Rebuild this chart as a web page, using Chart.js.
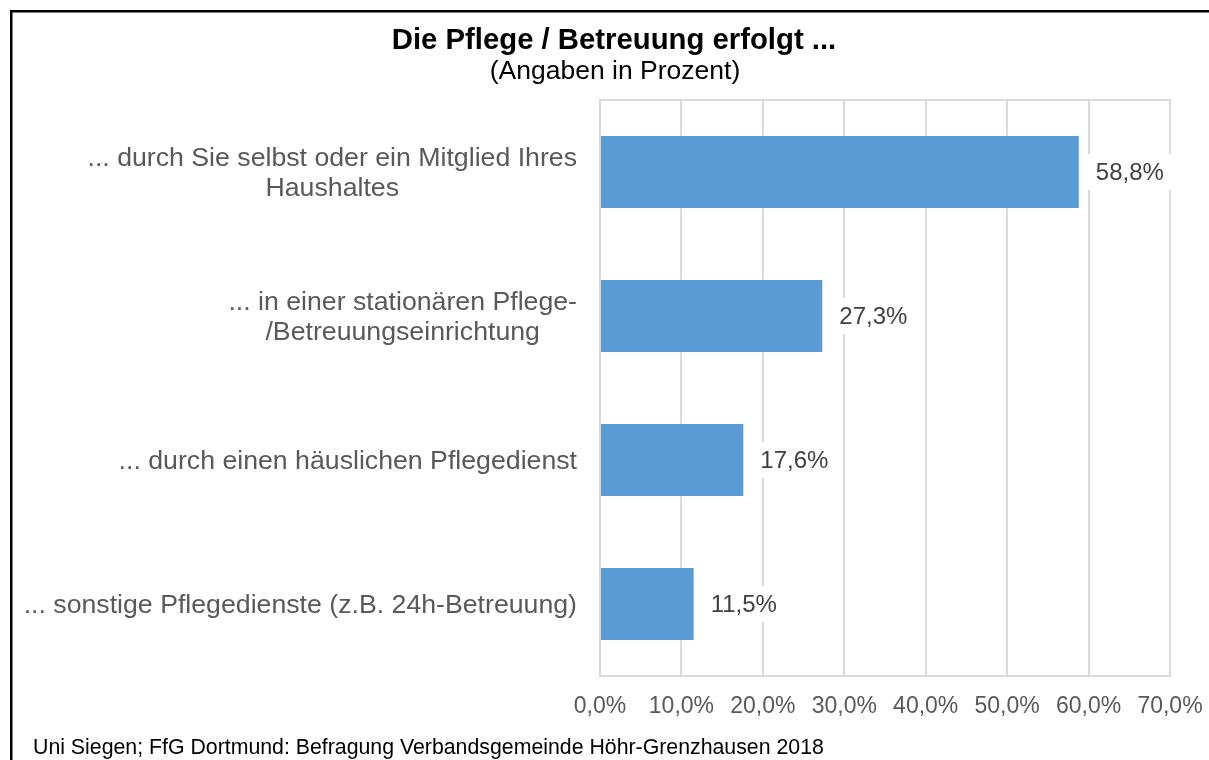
<!DOCTYPE html>
<html>
<head>
<meta charset="utf-8">
<script src="https://cdn.jsdelivr.net/npm/chart.js@4.4.1/dist/chart.umd.min.js"></script>
<style>
  html, body { margin: 0; padding: 0; background: #ffffff; }
  #wrap { position: relative; width: 1209px; height: 760px; }
  canvas { display: block; }
</style>
</head>
<body>
<div id="wrap"><canvas id="c" width="1209" height="760"></canvas></div>
<script>
const chartTitle = 'Die Pflege / Betreuung erfolgt ...';
const chartSubtitle = '(Angaben in Prozent)';
const sourceNote = 'Uni Siegen; FfG Dortmund: Befragung Verbandsgemeinde Höhr-Grenzhausen 2018';
const categories = [
  ['... durch Sie selbst oder ein Mitglied Ihres', 'Haushaltes'],
  ['... in einer stationären Pflege-', '/Betreuungseinrichtung'],
  ['... durch einen häuslichen Pflegedienst'],
  ['... sonstige Pflegedienste (z.B. 24h-Betreuung)']
];
const values = [58.8, 27.3, 17.6, 11.5];
const valueLabels = ['58,8%', '27,3%', '17,6%', '11,5%'];
const tickLabels = ['0,0%', '10,0%', '20,0%', '30,0%', '40,0%', '50,0%', '60,0%', '70,0%'];

const FONT = '"Liberation Sans", Arial, sans-serif';

const decoPlugin = {
  id: 'deco',
  beforeDraw(chart) {
    const ctx = chart.ctx;
    ctx.save();
    ctx.fillStyle = '#ffffff';
    ctx.fillRect(0, 0, chart.width, chart.height);
    // outer frame
    ctx.strokeStyle = '#000000';
    ctx.lineWidth = 2.5;
    ctx.beginPath();
    ctx.moveTo(11.25, 800);
    ctx.lineTo(11.25, 11.25);
    ctx.lineTo(1300, 11.25);
    ctx.stroke();
    // title
    ctx.fillStyle = '#000000';
    ctx.textAlign = 'center';
    ctx.textBaseline = 'middle';
    ctx.font = 'bold 29.3px ' + FONT;
    ctx.fillText(chartTitle, 614, 41);
    ctx.font = '26.5px ' + FONT;
    ctx.fillText(chartSubtitle, 615, 72);
    // footer
    ctx.textAlign = 'left';
    ctx.font = '21.3px ' + FONT;
    ctx.fillText(sourceNote, 33, 748);
    ctx.restore();
  },
  beforeDatasetsDraw(chart) {
    const ctx = chart.ctx;
    const a = chart.chartArea;
    ctx.save();
    ctx.strokeStyle = '#d9d9d9';
    ctx.lineWidth = 2;
    ctx.strokeRect(a.left, a.top, a.right - a.left, a.bottom - a.top);
    ctx.restore();
  },
  afterDatasetsDraw(chart) {
    const ctx = chart.ctx;
    const xs = chart.scales.x;
    const ys = chart.scales.y;
    ctx.save();
    // value labels with white boxes
    ctx.font = '24px ' + FONT;
    ctx.textBaseline = 'middle';
    ctx.textAlign = 'left';
    values.forEach((v, i) => {
      const xEnd = xs.getPixelForValue(v);
      const yc = ys.getPixelForValue(i);
      const w = ctx.measureText(valueLabels[i]).width;
      ctx.fillStyle = '#ffffff';
      ctx.fillRect(xEnd + 8, yc - 18, w + 18, 36);
      ctx.fillStyle = '#404040';
      ctx.fillText(valueLabels[i], xEnd + 17, yc + 1);
    });
    // category labels: block right-aligned, lines centred
    ctx.font = '26.7px ' + FONT;
    ctx.fillStyle = '#595959';
    ctx.textAlign = 'center';
    const lineH = 30;
    categories.forEach((lines, i) => {
      const yc = ys.getPixelForValue(i);
      const bw = Math.max(...lines.map(l => ctx.measureText(l).width));
      const cx = 577 - bw / 2;
      const y0 = yc - (lines.length - 1) * lineH / 2 + 2;
      lines.forEach((l, k) => ctx.fillText(l, cx, y0 + k * lineH));
    });
    ctx.restore();
  }
};

new Chart(document.getElementById('c'), {
  type: 'bar',
  data: {
    labels: categories.map(c => c.join(' ')),
    datasets: [{
      data: values,
      backgroundColor: '#5b9bd5',
      borderWidth: 0,
      barPercentage: 0.5,
      categoryPercentage: 1.0
    }]
  },
  options: {
    indexAxis: 'y',
    responsive: false,
    animation: false,
    devicePixelRatio: 1,
    layout: { padding: { left: 600, right: 39, top: 100, bottom: 44 } },
    plugins: { legend: { display: false }, tooltip: { enabled: false }, title: { display: false } },
    scales: {
      x: {
        min: 0, max: 70,
        grid: { color: '#d9d9d9', lineWidth: 2, drawTicks: false },
        border: { display: false },
        ticks: {
          stepSize: 10,
          padding: 17,
          color: '#595959',
          font: { family: FONT, size: 23 },
          callback: (v, i) => tickLabels[i]
        },
        afterFit(scale) {
          scale.height = 40;
          scale.paddingLeft = 0;
          scale.paddingRight = 0;
        }
      },
      y: {
        display: false
      }
    }
  },
  plugins: [decoPlugin]
});
</script>
</body>
</html>
